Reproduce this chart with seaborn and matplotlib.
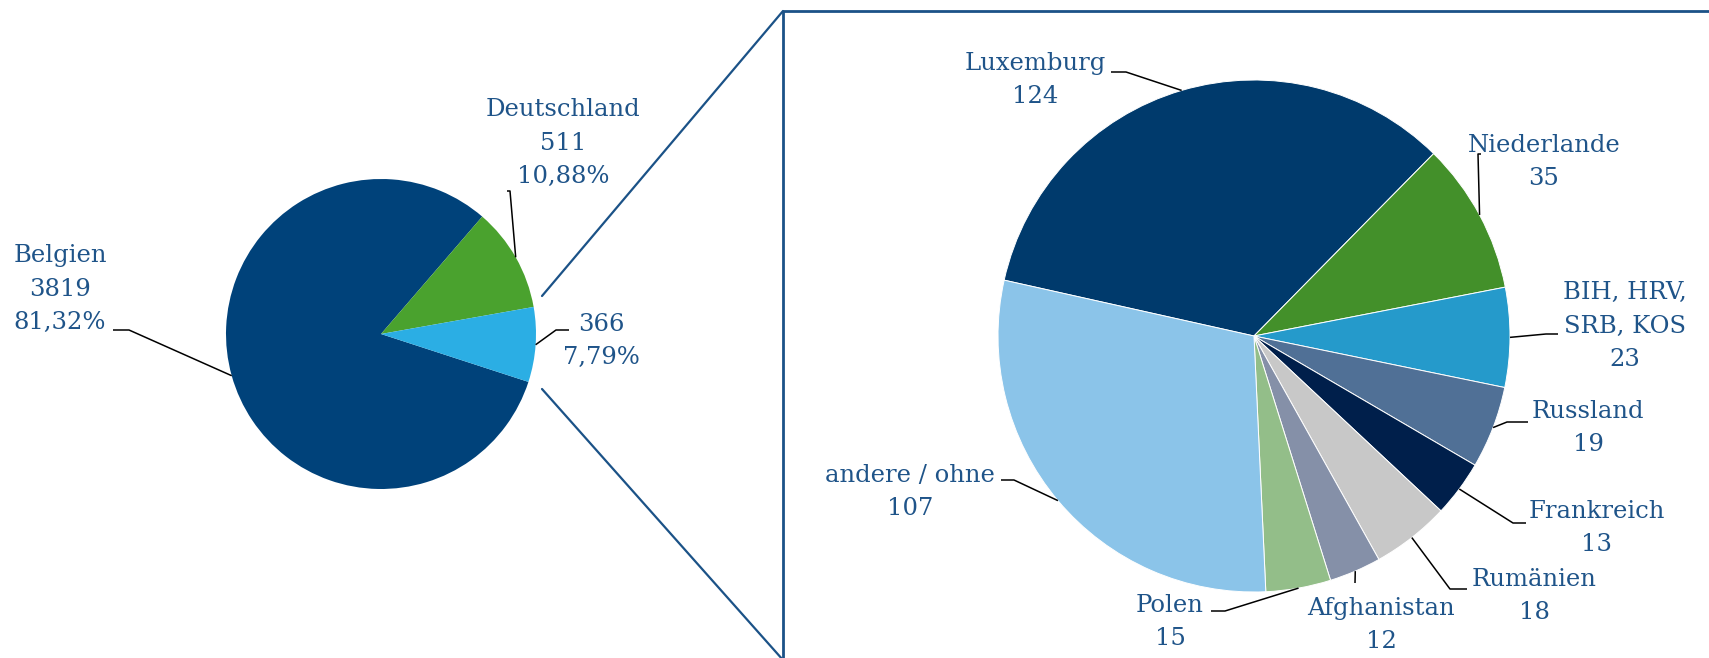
import numpy as np
import matplotlib
matplotlib.use("Agg")
import matplotlib.pyplot as plt
import seaborn as sns

# left pie: overall
main_labels = ["Belgien", "Deutschland", ""]
main_values = [3819, 511, 366]
main_colors = ["#00427a", "#4aa22e", "#2baee4"]

# right pie: breakdown of the 366
sub_labels = ["Luxemburg", "Niederlande", "BIH, HRV,\nSRB, KOS", "Russland",
              "Frankreich", "Rumänien", "Afghanistan", "Polen", "andere / ohne"]
sub_values = [124, 35, 23, 19, 13, 18, 12, 15, 107]
sub_colors = ["#003a6c", "#43902a", "#259acb", "#507096", "#001f4b",
              "#c8c8c8", "#8590a8", "#93be89", "#8bc4e9"]

W, H = 1709, 658
TXT = "#1f5489"
LINE = "#1b5287"

sns.set_theme(style="white")
plt.rcParams["font.family"] = ["DejaVu Serif"]

fig = plt.figure(figsize=(W / 100, H / 100), dpi=100)
ax = fig.add_axes([0, 0, 1, 1])


def img(x, y):
    # image pixel coords (y down) -> axes coords (y up)
    return x, H - y


# pie geometry (image pixels)
L_C, L_R = (381, 334), 155
R_C, R_R = (1254, 336), 256

lw, _ = ax.pie(main_values, colors=main_colors, center=img(*L_C), radius=L_R,
               startangle=-18, counterclock=False,
               wedgeprops=dict(linewidth=0), frame=True)
rw, _ = ax.pie(sub_values, colors=sub_colors, center=img(*R_C), radius=R_R,
               startangle=167.4, counterclock=False,
               wedgeprops=dict(linewidth=0.7, edgecolor="white"), frame=True)


def rim(wedge, center, r):
    a = np.deg2rad((wedge.theta1 + wedge.theta2) / 2)
    cx, cy = img(*center)
    return cx + r * np.cos(a), cy + r * np.sin(a)


total = sum(main_values)
main_text = [f"{lab}\n{v}\n{v / total * 100:.2f}%".replace(".", ",").lstrip("\n")
             for lab, v in zip(main_labels, main_values)]
sub_text = [f"{lab}\n{v}" for lab, v in zip(sub_labels, sub_values)]

# label layout: text centre, elbow point, stub end (image pixels)
main_layout = [((60, 289), (129, 330), (113, 330)),
               ((563, 143), (510, 191), (507, 191)),
               ((601, 341), (556, 330), (569, 330))]
sub_layout = [((1035, 80), (1126, 72), (1111, 72)),
              ((1544, 162), (1478, 154), (1481, 154)),
              ((1625, 326), (1546, 334), (1558, 334)),
              ((1588, 428), (1507, 422), (1528, 422)),
              ((1597, 528), (1513, 523), (1526, 523)),
              ((1534, 596), (1450, 589), (1467, 589)),
              ((1381, 625), (1355, 583), (1355, 583)),
              ((1170, 622), (1225, 611), (1211, 611)),
              ((910, 492), (1014, 480), (1001, 480))]

for wedges, texts, layout, c, r in [(lw, main_text, main_layout, L_C, L_R),
                                    (rw, sub_text, sub_layout, R_C, R_R)]:
    for w, t, (pos, elbow, stub) in zip(wedges, texts, layout):
        ax.text(*img(*pos), t, ha="center", va="center", color=TXT,
                fontsize=17.5, linespacing=1.6)
        px, py = rim(w, c, r)
        ex, ey = img(*elbow)
        sx, sy = img(*stub)
        ax.plot([px, ex, sx], [py, ey, sy], color="black", lw=1.1,
                solid_capstyle="butt")

# connector lines and frame around the breakdown
ax.plot(*zip(img(542, 296), img(783, 11)), color=LINE, lw=1.6)
ax.plot(*zip(img(542, 389), img(783, 660)), color=LINE, lw=1.6)
ax.plot(*zip(img(783, 670), img(783, 11), img(1712, 11)), color=LINE, lw=2)

ax.set_xlim(0, W)
ax.set_ylim(0, H)
ax.set_aspect("equal")
ax.axis("off")

fig.savefig("out.png", dpi=100, facecolor="white")
